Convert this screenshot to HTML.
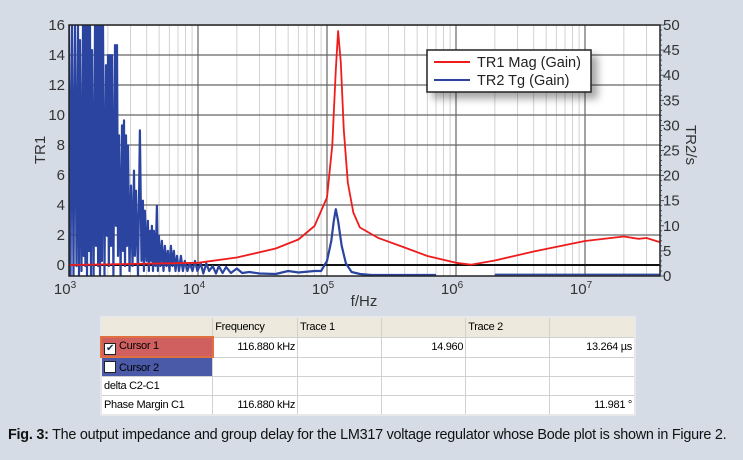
<!DOCTYPE html>
<html><head><meta charset="utf-8">
<style>
html,body{margin:0;padding:0;}
body{width:743px;height:460px;background:#d5dce6;position:relative;overflow:hidden;font-family:"Liberation Sans",sans-serif;}
#chart{position:absolute;left:0;top:0;}
table{position:absolute;left:100px;top:316px;width:536px;border-collapse:collapse;font-family:"Liberation Sans",sans-serif;font-size:11px;background:#fff;border:2px solid #e8e8e8;letter-spacing:-0.3px;}
td{height:18px;border:1px solid #d0d0d0;padding:0 2px;color:#000;white-space:nowrap;}
tr.hdr td{background:#ede9dc;height:18px;}
td.r{text-align:right;}
.c1{background:#d06060;border:2px solid #e07040;}
.c2{background:#4a5aa8;}
.cb{display:inline-block;width:10px;height:10px;border:1px solid #222;background:#fff;vertical-align:-2px;margin-right:3px;font-size:10px;line-height:10px;text-align:center;color:#135;}
#caption{position:absolute;left:8px;top:427px;font-size:14.4px;color:#111;white-space:nowrap;letter-spacing:-0.25px;}
</style></head><body>
<svg id="chart" width="743" height="310" xmlns="http://www.w3.org/2000/svg"></svg>
<table>
<colgroup><col style="width:112px"><col style="width:85px"><col style="width:84px"><col style="width:85px"><col style="width:84px"><col style="width:86px"></colgroup>
<tr class="hdr"><td></td><td>Frequency</td><td>Trace 1</td><td></td><td>Trace 2</td><td></td></tr>
<tr><td class="c1"><span class="cb">✔</span>Cursor 1</td><td class="r">116.880 kHz</td><td></td><td class="r">14.960</td><td></td><td class="r">13.264 µs</td></tr>
<tr><td class="c2"><span class="cb"></span>Cursor 2</td><td></td><td></td><td></td><td></td><td></td></tr>
<tr><td>delta C2-C1</td><td></td><td></td><td></td><td></td><td></td></tr>
<tr><td>Phase Margin C1</td><td class="r">116.880 kHz</td><td></td><td></td><td></td><td class="r">11.981 °</td></tr>
</table>
<div id="caption"><b>Fig. 3:</b> The output impedance and group delay for the LM317 voltage regulator whose Bode plot is shown in Figure 2.</div>
<script>
const redFreq=[1000,10000,20000,40000,60000,80000,100000,110000,117000,122000,128000,135000,145000,160000,180000,250000,390000,600000,1000000,1300000,2000000,4000000,10000000,20000000,26000000,30000000,39000000];
const redVal=[0,0.15,0.5,1.1,1.7,2.6,4.5,8,13,15.6,13.5,9,5.5,3.5,2.5,1.8,1.2,0.6,0.15,0.02,0.3,0.9,1.6,1.9,1.75,1.8,1.5];
const blueFreq=[1000,1028,1055,1084,1113,1143,1174,1195,1217,1250,1284,1300,1320,1340,1354,1380,1404,1430,1455,1480,1508,1550,1591,1620,1649,1680,1708,1740,1771,1800,1835,1885,1935,1970,2005,2040,2079,2115,2154,2210,2273,2315,2356,2400,2441,2510,2575,2620,2668,2715,2765,2815,2866,2945,3023,3105,3189,3245,3305,3425,3547,3645,3742,3810,3878,3985,4091,4165,4240,4315,4394,4475,4554,4680,4805,4890,4980,5115,5254,5400,5543,5695,5848,6010,6170,6340,6509,6690,6868,7120,7369,7640,7906,8280,8660,9060,9485,9900,10500,11000,11600,12200,13000,13800,14500,15500,16500,18000,20000,22000,25000,30000,40000,50000,60000,80000,90000,100000,108000,113000,117000,122000,130000,140000,155000,180000,220000,700000];
const blueVal=[50,0,50,0,50,2,50,0,47,1,50,4,50,2,50,0,50,5,50,0,45,0,50,6,50,2,50,0,50,3,50,0,42,8,44,2,44,6,44,0,46,10,46,4,28,0,30,5,31,2,28,6,26,1,18,2,21,4,17,0,29,3,15,1,13,3,11,1,9,3,10,1,9,2,14,1,8,2,7,1,6,2,5,1,6,2,5,1,4,1,4,1,3,1,2.5,1,3,1,2.5,0.5,2.5,1,2,0.5,2,0.6,1.8,0.6,1.5,0.6,0.8,0.5,0.4,1,0.7,1,1,3,7,11,13.3,11,6,2.5,0.8,0.4,0.2,0.2];
const blue2Freq=[2000000,39000000];
const blue2Val=[0.3,0.3];
const leftTicks=[0,2,4,6,8,10,12,14,16];
const rightTicks=[0,5,10,15,20,25,30,35,40,45,50];
const decades=[3,4,5,6,7];

const svg=document.getElementById('chart');
const NS='http://www.w3.org/2000/svg';
const L=69,R=660,T=25,B=276;
const x=f=>L+(Math.log10(f)-3)*129;
const yL=v=>265-v*15;
const yR=v=>B-v*(B-T)/50;
function el(t,a,p){const e=document.createElementNS(NS,t);for(const k in a)e.setAttribute(k,a[k]);(p||svg).appendChild(e);return e;}

const defs=el('defs',{});
const cp=el('clipPath',{id:'pc'},defs);el('rect',{x:L,y:T,width:R-L,height:B-T},cp);
const flt=el('filter',{id:'sh',x:'-20%',y:'-20%',width:'150%',height:'180%'},defs);
el('feDropShadow',{dx:6,dy:6,stdDeviation:4,'flood-color':'#000','flood-opacity':0.35},flt);

const bg=el('rect',{x:L,y:T,width:R-L,height:B-T,fill:'#fff'});



const grid=el('g',{'clip-path':'url(#pc)'});


for(let d=3;d<8;d++)for(let m=2;m<10;m++){const xv=x(m*Math.pow(10,d));if(xv<R)el('line',{x1:xv,x2:xv,y1:T,y2:B,stroke:'#d2d2d2','stroke-width':1},grid);}
decades.forEach(d=>{el('line',{x1:x(Math.pow(10,d)),x2:x(Math.pow(10,d)),y1:T,y2:B,stroke:'#666','stroke-width':1.2},grid);});
leftTicks.forEach(v=>{el('line',{x1:L,x2:R,y1:yL(v),y2:yL(v),stroke:v===0?'#111':'#666','stroke-width':v===0?2:1.2},grid);});

function path(fs,vs,yf,col,name,w){
  let d='';fs.forEach((f,i)=>{const px=x(f),py=yf(vs[i]);d+=(i?'L':'M')+px.toFixed(1)+' '+py.toFixed(1);});
  const p=el('path',{d:d,fill:'none',stroke:col,'stroke-width':w,'clip-path':'url(#pc)','stroke-linejoin':'round'});
  
  
}
path(blueFreq,blueVal,yR,'#2a44a0','tr2-group-delay-line',2.2);
path(blue2Freq,blue2Val,yR,'#2a44a0','tr2-group-delay-tail',1.8);
path(redFreq,redVal,yL,'#ee1c1c','tr1-magnitude-line',1.8);

el('rect',{x:L,y:T,width:R-L,height:B-T,fill:'none',stroke:'#222','stroke-width':1.5});

leftTicks.forEach(v=>{const t=el('text',{x:L-4,y:yL(v)+5,'text-anchor':'end','font-size':15,fill:'#333'});t.textContent=v;

});
rightTicks.forEach(v=>{const t=el('text',{x:R+3,y:yR(v)+5,'font-size':15,fill:'#333'});t.textContent=v;

});
for(let v=0;v<=50;v++){el('line',{x1:R,x2:R+(v%5?2:4),y1:yR(v),y2:yR(v),stroke:'#333','stroke-width':0.8});}
decades.forEach(d=>{const t=el('text',{x:x(Math.pow(10,d))-4,y:294,'text-anchor':'middle','font-size':15,fill:'#333'});t.textContent='10';
const s=el('tspan',{'font-size':10,dy:-6},t);s.textContent=d;

});

let t=el('text',{x:364,y:306,'text-anchor':'middle','font-size':15,fill:'#333'});t.textContent='f/Hz';


t=el('text',{x:0,y:0,transform:'translate(45,150) rotate(-90)','text-anchor':'middle','font-size':15,fill:'#333'});t.textContent='TR1';


t=el('text',{x:0,y:0,transform:'translate(686,145) rotate(90)','text-anchor':'middle','font-size':15,fill:'#333'});t.textContent='TR2/s';



const lg=el('g',{});


el('rect',{x:427,y:50,width:164,height:42,fill:'#fff',stroke:'#222','stroke-width':1.5,filter:'url(#sh)'},lg);
el('line',{x1:434,x2:470,y1:62,y2:62,stroke:'#ee1c1c','stroke-width':2},lg);
el('line',{x1:434,x2:470,y1:80,y2:80,stroke:'#2a44a0','stroke-width':2},lg);
t=el('text',{x:477,y:67,'font-size':14.5,fill:'#222'},lg);t.textContent='TR1 Mag (Gain)';


t=el('text',{x:477,y:85,'font-size':14.5,fill:'#222'},lg);t.textContent='TR2 Tg (Gain)';


</script>
</body></html>
